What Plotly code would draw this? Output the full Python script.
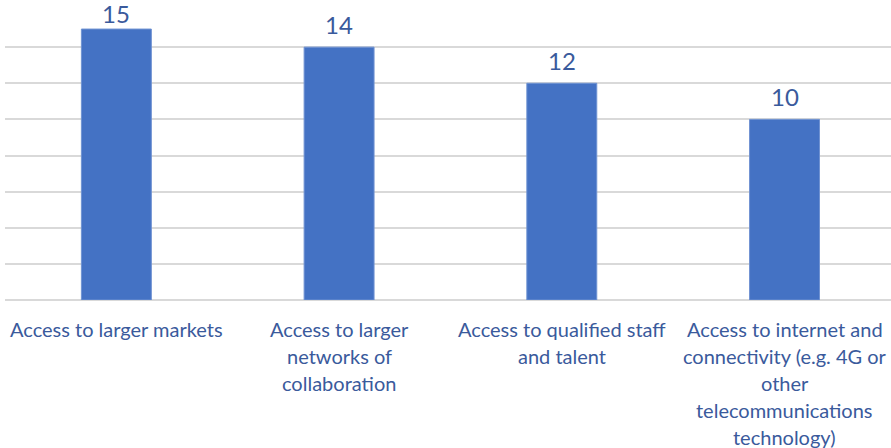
import plotly.graph_objects as go

# Survey results: number of mentions per benefit
categories = [
    "Access to larger markets",
    "Access to larger<br>networks of<br>collaboration",
    "Access to qualified staff<br>and talent",
    "Access to internet and<br>connectivity (e.g. 4G or<br>other<br>telecommunications<br>technology)",
]
values = [15, 14, 12, 10]
y_ticks = [0, 2, 4, 6, 8, 10, 12, 14, 16]

BAR_COLOR = "#4472C4"
TEXT_COLOR = "#3A5A9C"
GRID_COLOR = "#D9D9D9"
FONT = "Lato, 'Open Sans', sans-serif"

Y_MAX = 16
MARGIN_T, MARGIN_B = 11, 148
HEIGHT = 448
PX_PER_UNIT = (HEIGHT - MARGIN_T - MARGIN_B) / Y_MAX

x_pos = list(range(len(categories)))

fig = go.Figure(
    go.Bar(
        x=x_pos,
        y=values,
        width=0.314,
        marker=dict(color=BAR_COLOR, line=dict(color="#6F92D2", width=1)),
        hoverinfo="skip",
    )
)

annotations = []
# value labels above each bar, pushed down when they would leave the chart
for xi, v in zip(x_pos, values):
    room = (Y_MAX - v) * PX_PER_UNIT - 19
    annotations.append(
        dict(
            x=xi, y=v, xref="x", yref="y",
            text=str(v), showarrow=False,
            yanchor="bottom", yshift=min(6, room),
            font=dict(family=FONT, size=24, color=TEXT_COLOR),
        )
    )

# category labels, one line at a time for Excel-like line spacing
LINE_GAP = 27
FIRST_LINE = 29
for xi, label in zip(x_pos, categories):
    for i, line in enumerate(label.split("<br>")):
        annotations.append(
            dict(
                x=xi, y=0, xref="x", yref="paper",
                text=line, showarrow=False,
                yanchor="middle", yshift=-(FIRST_LINE + i * LINE_GAP),
                font=dict(family=FONT, size=20, color=TEXT_COLOR),
            )
        )

fig.update_layout(
    width=891,
    height=HEIGHT,
    margin=dict(l=5, r=0, t=MARGIN_T, b=MARGIN_B),
    paper_bgcolor="white",
    plot_bgcolor="white",
    showlegend=False,
    annotations=annotations,
    xaxis=dict(
        range=[-0.5, 3.478],
        showticklabels=False,
        showgrid=False,
        zeroline=False,
        showline=False,
        fixedrange=True,
    ),
    yaxis=dict(
        range=[0, Y_MAX],
        tickvals=y_ticks,
        showticklabels=False,
        showgrid=True,
        gridcolor=GRID_COLOR,
        gridwidth=1.5,
        zeroline=True,
        zerolinecolor=GRID_COLOR,
        zerolinewidth=1.5,
        showline=False,
        fixedrange=True,
    ),
)

fig.write_html("out.html")
